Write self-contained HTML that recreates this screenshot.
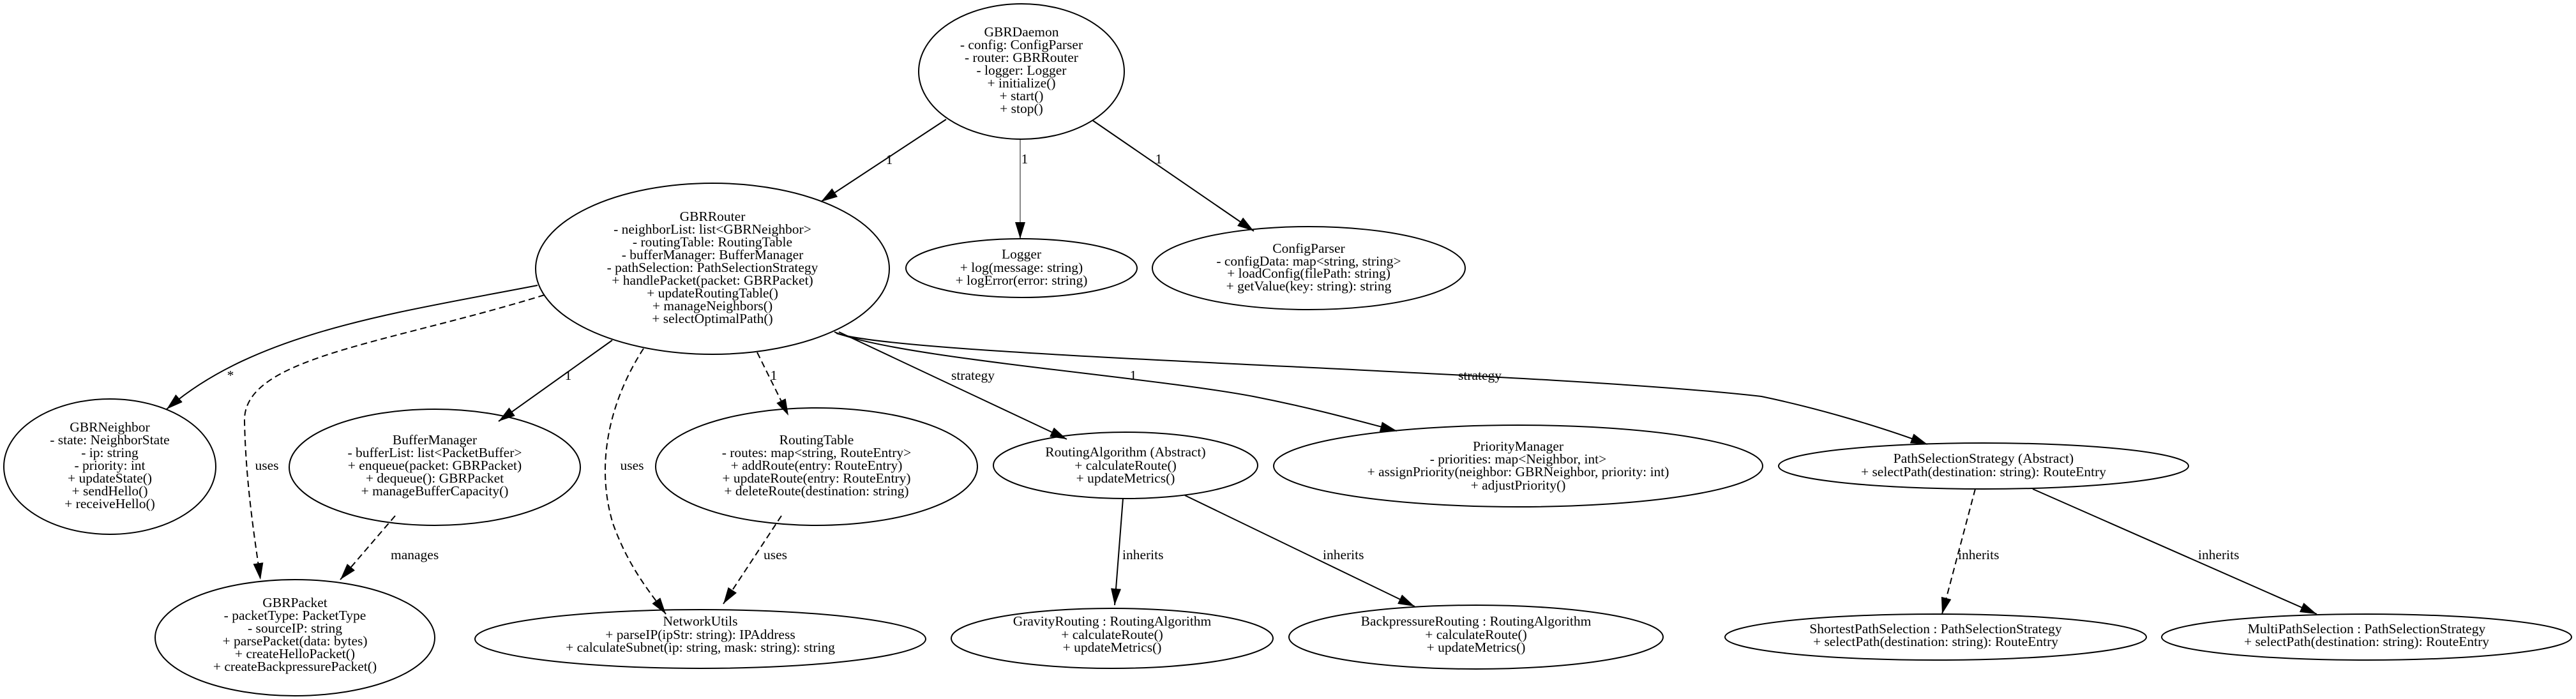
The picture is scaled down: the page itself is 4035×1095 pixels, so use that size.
<!DOCTYPE html>
<html><head><meta charset="utf-8"><style>
html,body{margin:0;padding:0;background:#fff;}
svg{display:block;}
text{font-family:"Liberation Serif",serif;font-size:21.5px;fill:#000;text-anchor:middle;}
ellipse{fill:none;stroke:#000;stroke-width:2;}
path.e{fill:none;stroke:#000;stroke-width:2;}
path.d{stroke-dasharray:10,6;}
</style></head><body>
<svg width="4035" height="1095" viewBox="0 0 4035 1095" xmlns="http://www.w3.org/2000/svg">
<defs>
<marker id="a" markerUnits="userSpaceOnUse" markerWidth="28" markerHeight="16" refX="26" refY="8" orient="auto">
<path d="M0,0 L26,8 L0,16 z" fill="#000"/>
</marker>
</defs>

<path class="e" d="M1482,187 L1286,316" marker-end="url(#a)"/>
<text x="1393" y="257">1</text>
<path class="e" style="stroke:#888" d="M1598,218 L1598,374" marker-end="url(#a)"/>
<text x="1605" y="256">1</text>
<path class="e" d="M1712,189 L1964,362" marker-end="url(#a)"/>
<text x="1815" y="256">1</text>

<path class="e" d="M842,447 C620,490 400,520 261,641" marker-end="url(#a)"/>
<text x="361" y="595">*</text>
<path class="e d" d="M853,462 C600,540 380,560 383,660 C385,760 400,850 408,908" marker-end="url(#a)"/>
<text x="418" y="736">uses</text>
<path class="e" d="M959,533 L781,660" marker-end="url(#a)"/>
<text x="890" y="595">1</text>
<path class="e d" d="M1008,546 C960,620 930,720 960,820 C985,890 1020,930 1043,962" marker-end="url(#a)"/>
<text x="990" y="736">uses</text>
<path class="e d" d="M1186,552 L1235,651" marker-end="url(#a)"/>
<text x="1212" y="595">1</text>
<path class="e" d="M1314,520 L1671,688" marker-end="url(#a)"/>
<text x="1524" y="595">strategy</text>
<path class="e" d="M1307,520 C1400,560 1800,590 1963,621 C2060,640 2130,660 2188,675" marker-end="url(#a)"/>
<text x="1775" y="595">1</text>
<path class="e" d="M1310,522 C1420,560 2400,580 2759,621 C2850,640 2950,670 3019,696" marker-end="url(#a)"/>
<text x="2318" y="595">strategy</text>

<path class="e d" d="M619,808 L533,908" marker-end="url(#a)"/>
<text x="612" y="876" style="text-anchor:start">manages</text>
<path class="e d" d="M1224,808 L1133,946" marker-end="url(#a)"/>
<text x="1196" y="876" style="text-anchor:start">uses</text>
<path class="e" d="M1759,781 L1746,948" marker-end="url(#a)"/>
<text x="1758" y="876" style="text-anchor:start">inherits</text>
<path class="e" d="M1856,776 L2216,950" marker-end="url(#a)"/>
<text x="2072" y="876" style="text-anchor:start">inherits</text>
<path class="e d" d="M3094,766 L3042,962" marker-end="url(#a)"/>
<text x="3067" y="876" style="text-anchor:start">inherits</text>
<path class="e" d="M3184,766 L3629,962" marker-end="url(#a)"/>
<text x="3443" y="876" style="text-anchor:start">inherits</text>

<ellipse cx="1600" cy="112" rx="161" ry="106"/>
<text x="1600" y="57">GBRDaemon</text>
<text x="1600" y="77">- config: ConfigParser</text>
<text x="1600" y="97">- router: GBRRouter</text>
<text x="1600" y="117">- logger: Logger</text>
<text x="1600" y="137">+ initialize()</text>
<text x="1600" y="157">+ start()</text>
<text x="1600" y="177">+ stop()</text>

<ellipse cx="1116" cy="421" rx="277" ry="134"/>
<text x="1116" y="346">GBRRouter</text>
<text x="1116" y="366">- neighborList: list&lt;GBRNeighbor&gt;</text>
<text x="1116" y="386">- routingTable: RoutingTable</text>
<text x="1116" y="406">- bufferManager: BufferManager</text>
<text x="1116" y="426">- pathSelection: PathSelectionStrategy</text>
<text x="1116" y="446">+ handlePacket(packet: GBRPacket)</text>
<text x="1116" y="466">+ updateRoutingTable()</text>
<text x="1116" y="486">+ manageNeighbors()</text>
<text x="1116" y="506">+ selectOptimalPath()</text>

<ellipse cx="1600" cy="420" rx="181" ry="46"/>
<text x="1600" y="405">Logger</text>
<text x="1600" y="426">+ log(message: string)</text>
<text x="1600" y="446">+ logError(error: string)</text>

<ellipse cx="2050" cy="420" rx="245" ry="65"/>
<text x="2050" y="396">ConfigParser</text>
<text x="2050" y="416">- configData: map&lt;string, string&gt;</text>
<text x="2050" y="435">+ loadConfig(filePath: string)</text>
<text x="2050" y="455">+ getValue(key: string): string</text>

<ellipse cx="172" cy="731" rx="166" ry="106"/>
<text x="172" y="676">GBRNeighbor</text>
<text x="172" y="696">- state: NeighborState</text>
<text x="172" y="716">- ip: string</text>
<text x="172" y="736">- priority: int</text>
<text x="172" y="756">+ updateState()</text>
<text x="172" y="776">+ sendHello()</text>
<text x="172" y="796">+ receiveHello()</text>

<ellipse cx="681" cy="732" rx="228" ry="91"/>
<text x="681" y="696">BufferManager</text>
<text x="681" y="716">- bufferList: list&lt;PacketBuffer&gt;</text>
<text x="681" y="736">+ enqueue(packet: GBRPacket)</text>
<text x="681" y="756">+ dequeue(): GBRPacket</text>
<text x="681" y="776">+ manageBufferCapacity()</text>

<ellipse cx="1279" cy="731" rx="252" ry="92"/>
<text x="1279" y="696">RoutingTable</text>
<text x="1279" y="716">- routes: map&lt;string, RouteEntry&gt;</text>
<text x="1279" y="736">+ addRoute(entry: RouteEntry)</text>
<text x="1279" y="756">+ updateRoute(entry: RouteEntry)</text>
<text x="1279" y="776">+ deleteRoute(destination: string)</text>

<ellipse cx="1763" cy="729" rx="207" ry="52"/>
<text x="1763" y="715">RoutingAlgorithm (Abstract)</text>
<text x="1763" y="736">+ calculateRoute()</text>
<text x="1763" y="756">+ updateMetrics()</text>

<ellipse cx="2378" cy="730" rx="383" ry="64"/>
<text x="2378" y="706">PriorityManager</text>
<text x="2378" y="726">- priorities: map&lt;Neighbor, int&gt;</text>
<text x="2378" y="746">+ assignPriority(neighbor: GBRNeighbor, priority: int)</text>
<text x="2378" y="767">+ adjustPriority()</text>

<ellipse cx="3107" cy="730" rx="321" ry="36"/>
<text x="3107" y="725">PathSelectionStrategy (Abstract)</text>
<text x="3107" y="746">+ selectPath(destination: string): RouteEntry</text>

<ellipse cx="462" cy="999" rx="219" ry="91"/>
<text x="462" y="951">GBRPacket</text>
<text x="462" y="971">- packetType: PacketType</text>
<text x="462" y="991">- sourceIP: string</text>
<text x="462" y="1011">+ parsePacket(data: bytes)</text>
<text x="462" y="1031">+ createHelloPacket()</text>
<text x="462" y="1051">+ createBackpressurePacket()</text>

<ellipse cx="1097" cy="1001" rx="353" ry="46"/>
<text x="1097" y="980">NetworkUtils</text>
<text x="1097" y="1001">+ parseIP(ipStr: string): IPAddress</text>
<text x="1097" y="1021">+ calculateSubnet(ip: string, mask: string): string</text>

<ellipse cx="1742" cy="1000" rx="252" ry="47"/>
<text x="1742" y="980">GravityRouting : RoutingAlgorithm</text>
<text x="1742" y="1001">+ calculateRoute()</text>
<text x="1742" y="1021">+ updateMetrics()</text>

<ellipse cx="2312" cy="998" rx="293" ry="50"/>
<text x="2312" y="980">BackpressureRouting : RoutingAlgorithm</text>
<text x="2312" y="1001">+ calculateRoute()</text>
<text x="2312" y="1021">+ updateMetrics()</text>

<ellipse cx="3032" cy="998" rx="330" ry="36"/>
<text x="3032" y="992">ShortestPathSelection : PathSelectionStrategy</text>
<text x="3032" y="1012">+ selectPath(destination: string): RouteEntry</text>

<ellipse cx="3707" cy="998" rx="321" ry="36"/>
<text x="3707" y="992">MultiPathSelection : PathSelectionStrategy</text>
<text x="3707" y="1012">+ selectPath(destination: string): RouteEntry</text>
</svg>
</body></html>
